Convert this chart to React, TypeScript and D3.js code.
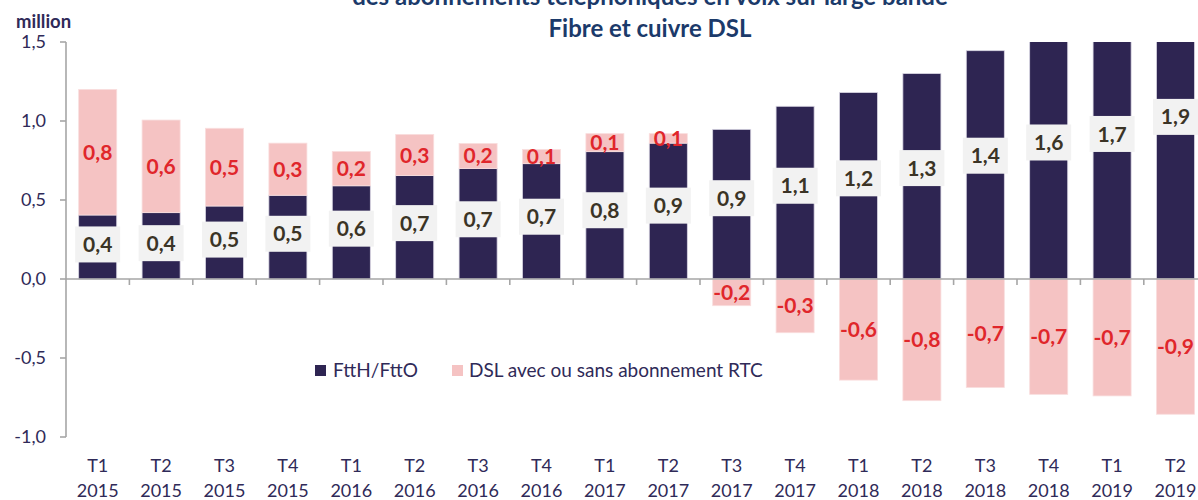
import React from "react";
import * as d3 from "d3";

const quarters = ["T1","T2","T3","T4","T1","T2","T3","T4","T1","T2","T3","T4","T1","T2","T3","T4","T1","T2"];
const years = ["2015","2015","2015","2015","2016","2016","2016","2016","2017","2017","2017","2017","2018","2018","2018","2018","2019","2019"];
const ftth = [0.405, 0.42, 0.462, 0.53, 0.59, 0.655, 0.70, 0.73, 0.806, 0.86, 0.947, 1.093, 1.18, 1.30, 1.445, 1.6, 1.7, 1.9];
const dsl = [0.795, 0.586, 0.492, 0.33, 0.217, 0.26, 0.158, 0.09, 0.114, 0.06, -0.169, -0.34, -0.64, -0.77, -0.687, -0.73, -0.74, -0.856];
const yTicks = [-1, -0.5, 0, 0.5, 1, 1.5];
const titleLines = ["des abonnements téléphoniques en voix sur large bande", "Fibre et cuivre DSL"];
const seriesNames = ["FttH/FttO", "DSL avec ou sans abonnement RTC"];

const W = 1198, H = 500;
const NAVY = "#2e2552", PINK = "#f5c3c3", RED = "#e0262b", AXIS_TXT = "#2f2a58", LBL_TXT = "#3b3426", GRID = "#a6a6a6";
const FONT = "Lato, 'Open Sans', sans-serif";

const loc = d3.formatLocale({ decimal: ",", thousands: " ", grouping: [3], currency: ["", "€"], minus: "-" });
const f1 = loc.format(".1f");

export default function App() {
  const step = 63.4;
  const x0 = 66;
  const x = d3.scaleBand<number>().domain(d3.range(quarters.length)).range([x0, x0 + step * quarters.length]).paddingInner(0.4).paddingOuter(0.2);
  const y = d3.scaleLinear().domain([-1, 1.5]).range([437, 42]);
  const bw = x.bandwidth();
  const y0 = y(0);

  return (
    <svg width={W} height={H} style={{ position: "absolute", left: 0, top: 0, background: "#fff" }} fontFamily={FONT}>
      <defs>
        <clipPath id="plot">
          <rect x={x0} y={y(1.5)} width={W - x0} height={y(-1) - y(1.5) + 2} />
        </clipPath>
      </defs>
      {/* title */}
      <g fill="#1b3a6a" fontWeight="bold" fontSize={24} textAnchor="middle">
        <text x={650} y={5}>{titleLines[0]}</text>
        <text x={650} y={37}>{titleLines[1]}</text>
      </g>
      <text x={16} y={28} fontSize={18.5} fontWeight="bold" fill={AXIS_TXT}>million</text>

      {/* bars */}
      <g clipPath="url(#plot)">
        {quarters.map((_, i) => {
          const xi = x(i)!;
          const top = y(ftth[i]);
          const d = dsl[i];
          const pinkY = d >= 0 ? y(ftth[i] + d) : y0;
          const pinkH = d >= 0 ? top - y(ftth[i] + d) : y(d) - y0;
          return (
            <g key={i}>
              <rect x={xi} y={top} width={bw} height={y0 - top} fill={NAVY} stroke="#d8d5e2" strokeWidth={0.8} />
              <rect x={xi} y={pinkY} width={bw} height={pinkH} fill={PINK} stroke="#f9dede" strokeWidth={0.8} />
            </g>
          );
        })}
      </g>

      {/* axes */}
      <g stroke={GRID} strokeWidth={1.6} fill="none">
        <line x1={x0} x2={x0} y1={y(1.5)} y2={y(-1)} />
        {yTicks.map((t) => (
          <line key={t} x1={x0 - 6} x2={x0} y1={y(t)} y2={y(t)} />
        ))}
        <line x1={x0} x2={W} y1={y0} y2={y0} />
        {d3.range(1, quarters.length + 1).map((k) => (
          <line key={k} x1={x0 + k * step} x2={x0 + k * step} y1={y0} y2={y0 + 6} />
        ))}
      </g>
      <g fill={AXIS_TXT} fontSize={18} textAnchor="end">
        {yTicks.map((t) => (
          <text key={t} x={46} y={y(t)} dy="0.35em">{f1(t)}</text>
        ))}
      </g>
      <g fill={AXIS_TXT} fontSize={18} textAnchor="middle">
        {quarters.map((q, i) => (
          <g key={i}>
            <text x={x(i)! + bw / 2} y={472}>{q}</text>
            <text x={x(i)! + bw / 2} y={496.5}>{years[i]}</text>
          </g>
        ))}
      </g>

      {/* labels */}
      <g fontSize={21} fontWeight="bold" textAnchor="middle">
        {quarters.map((_, i) => {
          const cx = x(i)! + bw / 2;
          const ly = y(ftth[i] * 0.54);
          const d = dsl[i];
          const dy = d >= 0 ? y(ftth[i] + d / 2) : y(d / 2);
          return (
            <g key={i}>
              <rect x={cx - 22.5} y={ly - 18} width={45} height={36} fill="#f2f2f2" />
              <text x={cx} y={ly} dy="0.36em" fill={LBL_TXT}>{f1(ftth[i])}</text>
              <text x={cx} y={dy} dy="0.36em" fill={RED}>{f1(d)}</text>
            </g>
          );
        })}
      </g>

      {/* legend */}
      <g fontSize={19} fill={AXIS_TXT}>
        <rect x={315} y={365} width={11} height={11} fill={NAVY} />
        <text x={333} y={377}>{seriesNames[0]}</text>
        <rect x={452} y={365} width={11} height={11} fill={PINK} />
        <text x={469} y={377}>{seriesNames[1]}</text>
      </g>
    </svg>
  );
}
